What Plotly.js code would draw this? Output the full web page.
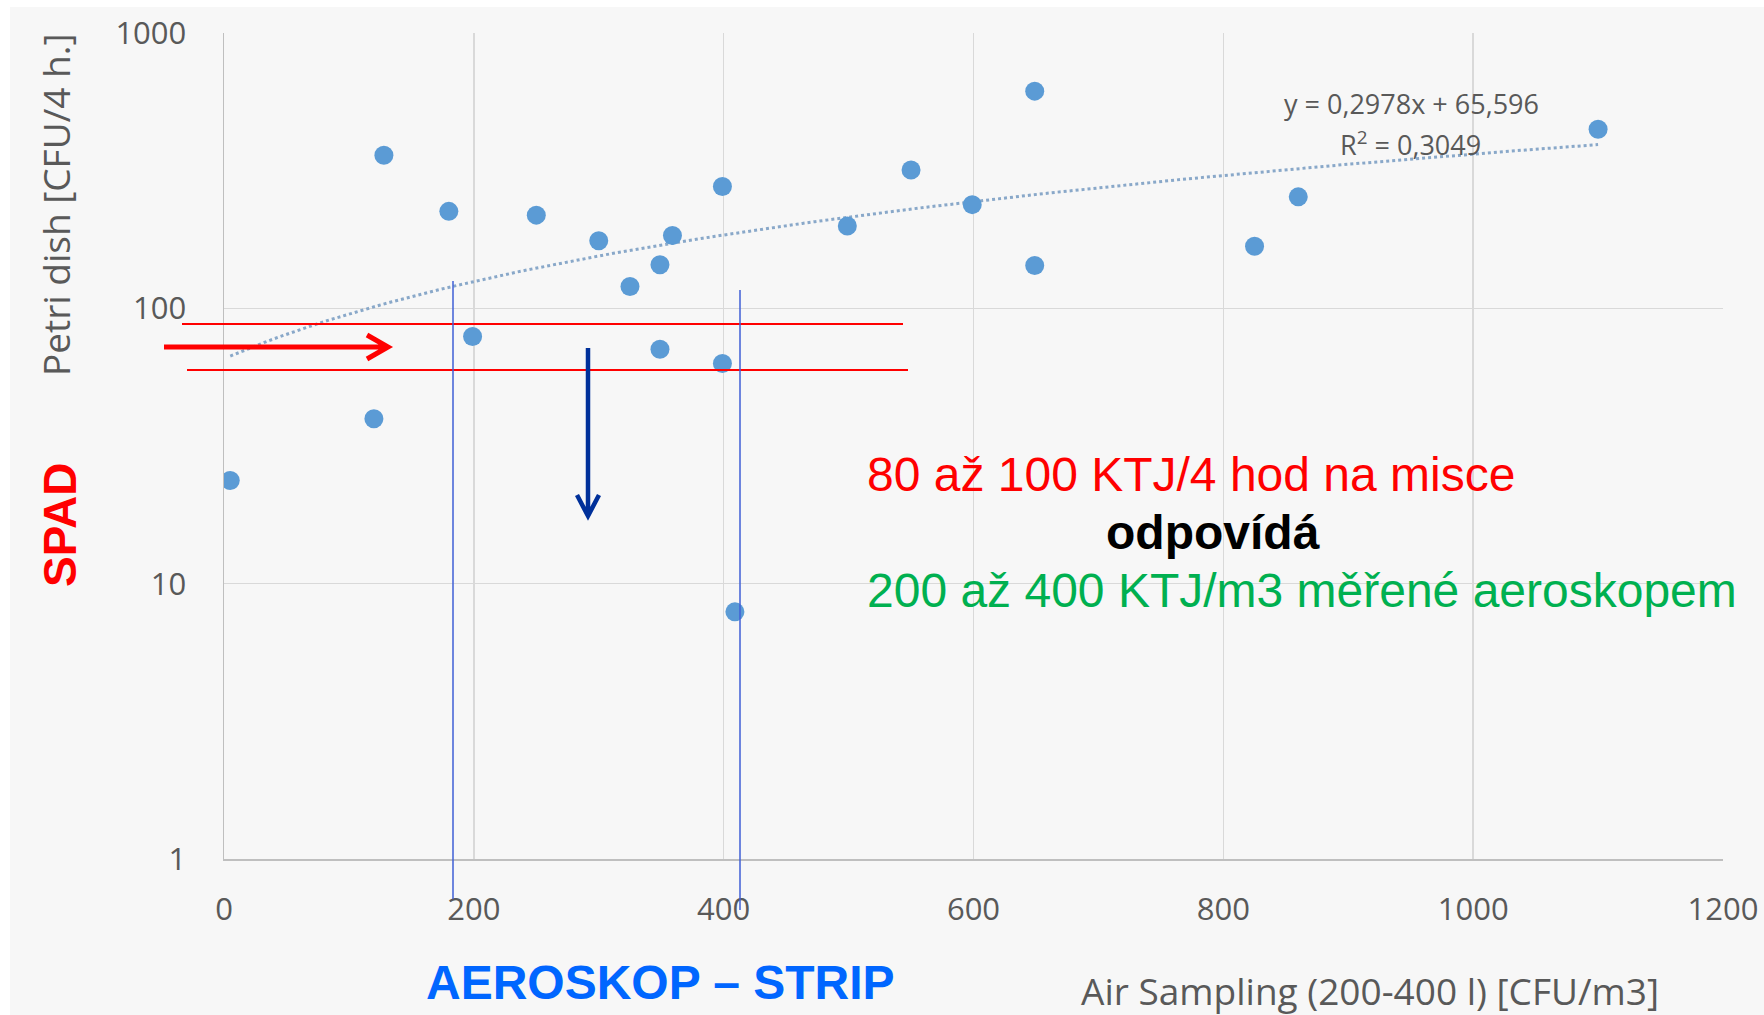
<!DOCTYPE html>
<html>
<head>
<meta charset="utf-8">
<script src="https://cdn.plot.ly/plotly-3.0.1.min.js"></script>
<style>
  html, body { margin: 0; padding: 0; background: #ffffff; }
  #chart { position: absolute; left: 10px; top: 7px; width: 1754px; height: 1008px; }
</style>
</head>
<body>
<div id="chart"></div>
<script>
// ---- data ----
const airSampling = [5, 120, 128, 180, 199, 250, 300, 325, 349, 349, 359, 399, 399, 409, 499, 550, 599, 649, 649, 825, 860, 1100];
const petriDish   = [23.7, 39.7, 360, 225, 79, 218, 176, 120, 144, 71, 184, 277, 63, 7.9, 199, 318, 238, 615, 143, 168, 254, 447];
const xTickVals = [0, 200, 400, 600, 800, 1000, 1200];
const yTickVals = [1, 10, 100, 1000];
const yTickText = ['1', '10', '100', '1000'];
const trendSlope = 0.2978;
const trendIntercept = 65.596;
const eqText = 'y = 0,2978x + 65,596';
const r2Text = 'R<sup>2</sup> = 0,3049';

// trendline from the equation shown in the chart
const tMin = Math.min(...airSampling), tMax = Math.max(...airSampling);
const trendX = [], trendY = [];
for (let i = 0; i <= 110; i++) {
  const xv = tMin + (tMax - tMin) * i / 110;
  trendX.push(xv);
  trendY.push(trendSlope * xv + trendIntercept);
}

// ---- layout helpers (page pixel -> paper fraction) ----
const OX = 10, OY = 7;              // div offset
const PL = 224, PR = 1723, PT = 33, PB = 859; // plot area in page px
const fx = x => (x - PL) / (PR - PL);
const fy = y => (PB - y) / (PB - PT);

const grey = '#595959';
const tickFont = {family: 'Open Sans, sans-serif', size: 31, color: grey};

const traces = [
  {
    x: trendX, y: trendY, type: 'scatter', mode: 'lines',
    line: {color: '#89a8c9', width: 3, dash: 'dot'},
    hoverinfo: 'skip'
  },
  {
    x: airSampling, y: petriDish, type: 'scatter', mode: 'markers',
    marker: {color: '#5b9bd5', size: 19}
  }
];

function arrowPath(x0, y0, x1, y1, a1x, a1y, a2x, a2y) {
  return 'M ' + fx(x0) + ' ' + fy(y0) + ' L ' + fx(x1) + ' ' + fy(y1) +
         ' M ' + fx(a1x) + ' ' + fy(a1y) + ' L ' + fx(x1) + ' ' + fy(y1) +
         ' L ' + fx(a2x) + ' ' + fy(a2y);
}

const shapes = [
  // red horizontal band lines
  {type: 'line', xref: 'paper', yref: 'paper', x0: fx(182), x1: fx(903), y0: fy(324), y1: fy(324), line: {color: '#ff0000', width: 2}},
  {type: 'line', xref: 'paper', yref: 'paper', x0: fx(187), x1: fx(908), y0: fy(370), y1: fy(370), line: {color: '#ff0000', width: 2}},
  // blue vertical lines
  {type: 'line', xref: 'paper', yref: 'paper', x0: fx(453), x1: fx(453), y0: fy(281), y1: fy(899), line: {color: '#3f5fd6', width: 1.5}},
  {type: 'line', xref: 'paper', yref: 'paper', x0: fx(740), x1: fx(740), y0: fy(290), y1: fy(910), line: {color: '#3f5fd6', width: 1.5}},
  // red arrow
  {type: 'path', xref: 'paper', yref: 'paper', path: arrowPath(164, 347, 388, 347, 367, 335, 367, 359), line: {color: '#ff0000', width: 5}},
  // navy arrow
  {type: 'path', xref: 'paper', yref: 'paper', path: arrowPath(588, 348, 588, 516, 577, 495, 599, 495), line: {color: '#00309a', width: 4.5}}
];

const annotations = [
  {text: 'Petri dish [CFU/4 h.]', xref: 'paper', yref: 'paper', x: fx(56), y: fy(205), textangle: -90,
   showarrow: false, xanchor: 'center', yanchor: 'middle', font: {family: 'Open Sans, sans-serif', size: 37, color: grey}},
  {text: 'Air Sampling (200-400 l) [CFU/m3]', xref: 'paper', yref: 'paper', x: fx(1370), y: fy(990),
   showarrow: false, xanchor: 'center', yanchor: 'middle', font: {family: 'Open Sans, sans-serif', size: 37, color: grey}},
  {text: eqText, xref: 'paper', yref: 'paper', x: fx(1411), y: fy(103),
   showarrow: false, xanchor: 'center', yanchor: 'middle', font: {family: 'Open Sans, sans-serif', size: 27, color: grey}},
  {text: r2Text, xref: 'paper', yref: 'paper', x: fx(1410), y: fy(144),
   showarrow: false, xanchor: 'center', yanchor: 'middle', font: {family: 'Open Sans, sans-serif', size: 27, color: grey}},
  {text: '<b>SPAD</b>', xref: 'paper', yref: 'paper', x: fx(60), y: fy(525), textangle: -90,
   showarrow: false, xanchor: 'center', yanchor: 'middle', font: {family: 'Liberation Sans, Arial, sans-serif', size: 46, color: '#ff0000'}},
  {text: '<b>AEROSKOP – STRIP</b>', xref: 'paper', yref: 'paper', x: fx(660), y: fy(982),
   showarrow: false, xanchor: 'center', yanchor: 'middle', font: {family: 'Liberation Sans, Arial, sans-serif', size: 48, color: '#0066ff'}},
  {text: '80 až 100 KTJ/4 hod na misce', xref: 'paper', yref: 'paper', x: fx(865), y: fy(474),
   showarrow: false, xanchor: 'left', yanchor: 'middle', font: {family: 'Liberation Sans, Arial, sans-serif', size: 48, color: '#ff0000'}},
  {text: '<b>odpovídá</b>', xref: 'paper', yref: 'paper', x: fx(1213), y: fy(532),
   showarrow: false, xanchor: 'center', yanchor: 'middle', font: {family: 'Liberation Sans, Arial, sans-serif', size: 48, color: '#000000'}},
  {text: '200 až 400 KTJ/m3 měřené aeroskopem', xref: 'paper', yref: 'paper', x: fx(865), y: fy(590),
   showarrow: false, xanchor: 'left', yanchor: 'middle', font: {family: 'Liberation Sans, Arial, sans-serif', size: 48, color: '#00b050'}}
];

const layout = {
  width: 1754, height: 1008,
  margin: {l: PL - OX, r: 1754 - (PR - OX), t: PT - OY, b: 1015 - PB, pad: 0},
  paper_bgcolor: '#f7f7f7',
  plot_bgcolor: '#f7f7f7',
  showlegend: false,
  xaxis: {
    range: [0, 1200], tickvals: xTickVals, showgrid: true, gridcolor: '#d9d9d9', gridwidth: 1.5,
    zeroline: false, showline: true, linecolor: '#bfbfbf', linewidth: 2,
    ticks: '', tickfont: tickFont, ticklabelstandoff: 22
  },
  yaxis: {
    type: 'log', range: [0, 3], tickvals: yTickVals, ticktext: yTickText, showgrid: true,
    gridcolor: '#d9d9d9', gridwidth: 1.5, zeroline: false, showline: true, linecolor: '#bfbfbf', linewidth: 1.5,
    ticks: '', tickfont: tickFont, ticklabelstandoff: 30
  },
  shapes: shapes,
  annotations: annotations
};

Plotly.newPlot('chart', traces, layout, {displayModeBar: false, staticPlot: true});
</script>
</body>
</html>
